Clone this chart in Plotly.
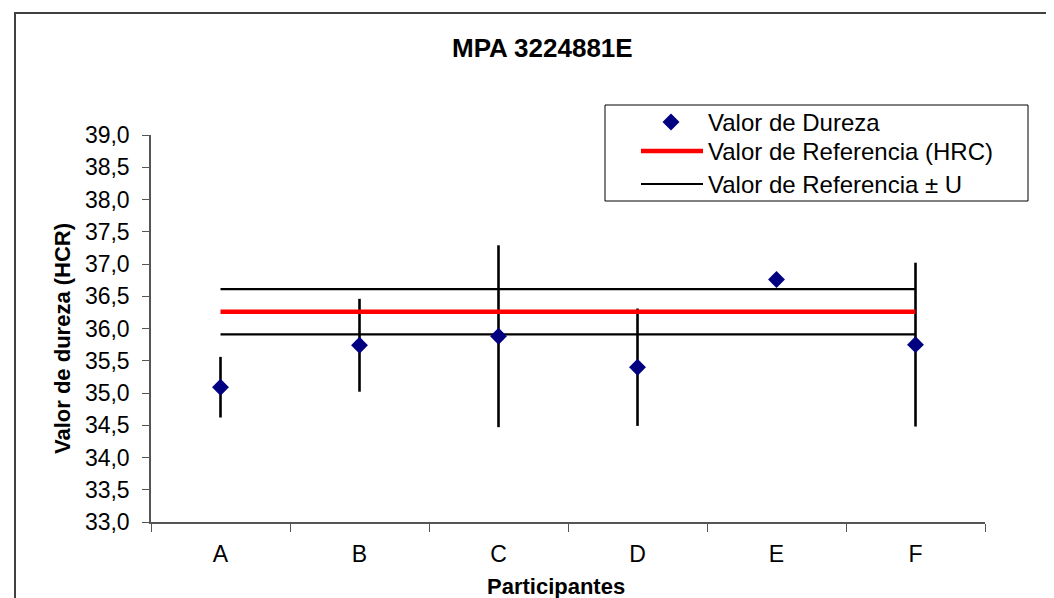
import plotly.graph_objects as go

# ---- data ----
participants = ["A", "B", "C", "D", "E", "F"]
hardness = [35.09, 35.74, 35.88, 35.40, 36.76, 35.75]
hardness_err = [0.47, 0.72, 1.41, 0.91, 0.0, 1.27]
ref_value = 36.26
ref_U = 0.35
y_ticks = [33.0, 33.5, 34.0, 34.5, 35.0, 35.5, 36.0, 36.5, 37.0, 37.5, 38.0, 38.5, 39.0]

title_text = "MPA 3224881E"
x_title = "Participantes"
y_title = "Valor de dureza (HCR)"
legend_names = ["Valor de Dureza", "Valor de Referencia (HRC)", "Valor de Referencia ± U"]

# ---- layout geometry (pixels) ----
W, H = 1054, 598
L, R, T, B = 143, 77, 127, 84
PW, PH = W - L - R, H - T - B

def px(x):
    return (x - L) / PW

def py(y):
    return (H - B - y) / PH

FONT = "Arial, Liberation Sans, sans-serif"
NAVY = "#000080"

fig = go.Figure()

# error bars (drawn first, below lines)
fig.add_trace(go.Scatter(
    x=participants, y=hardness, mode="markers",
    marker=dict(size=1, color="rgba(0,0,0,0)"),
    error_y=dict(type="data", array=hardness_err, visible=True,
                 color="black", thickness=2.6, width=0),
    showlegend=False, hoverinfo="skip"))

# reference lines
fig.add_trace(go.Scatter(
    x=participants, y=[ref_value + ref_U] * len(participants), mode="lines",
    line=dict(color="black", width=2.2), showlegend=False))
fig.add_trace(go.Scatter(
    x=participants, y=[ref_value - ref_U] * len(participants), mode="lines",
    line=dict(color="black", width=2.2), showlegend=False))
fig.add_trace(go.Scatter(
    x=participants, y=[ref_value] * len(participants), mode="lines",
    line=dict(color="#FF0000", width=4.5), showlegend=False))

# hardness markers on top
fig.add_trace(go.Scatter(
    x=participants, y=hardness, mode="markers",
    marker=dict(symbol="diamond", size=13, color=NAVY, line=dict(width=0)),
    showlegend=False))

shapes = []
annotations = []

# outer chart border
shapes.append(dict(type="rect", xref="paper", yref="paper",
                   x0=px(7), x1=px(1062), y0=py(5), y1=py(640),
                   line=dict(color="#404040", width=2)))

# legend box
lx0, lx1, ly0, ly1 = 597, 1020, 97, 193
shapes.append(dict(type="rect", xref="paper", yref="paper",
                   x0=px(lx0), x1=px(lx1), y0=py(ly0), y1=py(ly1),
                   line=dict(color="black", width=1), fillcolor="white", layer="above"))
rows = [114, 143, 176]
# diamond symbol
cx, cy, r = 663, rows[0], 8.5
path = "M {} {} L {} {} L {} {} L {} {} Z".format(
    px(cx), py(cy - r), px(cx + r), py(cy), px(cx), py(cy + r), px(cx - r), py(cy))
shapes.append(dict(type="path", xref="paper", yref="paper", path=path,
                   fillcolor=NAVY, line=dict(width=0), layer="above"))
shapes.append(dict(type="line", xref="paper", yref="paper",
                   x0=px(633), x1=px(695), y0=py(rows[1]), y1=py(rows[1]),
                   line=dict(color="#FF0000", width=4.5), layer="above"))
shapes.append(dict(type="line", xref="paper", yref="paper",
                   x0=px(633), x1=px(695), y0=py(rows[2]), y1=py(rows[2]),
                   line=dict(color="black", width=2.2), layer="above"))
for name, ry in zip(legend_names, rows):
    annotations.append(dict(xref="paper", yref="paper", x=px(698), y=py(ry),
                            xanchor="left", yanchor="middle", showarrow=False,
                            text=name, font=dict(family=FONT, size=24, color="black")))

# titles
annotations.append(dict(xref="paper", yref="paper", x=px(534), y=py(40),
                        xanchor="center", yanchor="middle", showarrow=False,
                        text="<b>" + title_text + "</b>",
                        font=dict(family=FONT, size=26, color="black")))
annotations.append(dict(xref="paper", yref="paper", x=px(548), y=py(578),
                        xanchor="center", yanchor="middle", showarrow=False,
                        text="<b>" + x_title + "</b>",
                        font=dict(family=FONT, size=22, color="black")))
annotations.append(dict(xref="paper", yref="paper", x=px(54), y=py(331),
                        xanchor="center", yanchor="middle", showarrow=False,
                        textangle=-90, text="<b>" + y_title + "</b>",
                        font=dict(family=FONT, size=22, color="black")))

fig.update_layout(
    width=W, height=H,
    margin=dict(l=L, r=R, t=T, b=B, pad=0),
    paper_bgcolor="white", plot_bgcolor="white",
    separators=",.",
    showlegend=False,
    shapes=shapes, annotations=annotations,
    font=dict(family=FONT, size=23, color="black"),
)
fig.update_xaxes(
    type="category", range=[-0.5, len(participants) - 0.5],
    showgrid=False, zeroline=False,
    showline=True, linecolor="#555555", linewidth=1.5,
    ticks="outside", tickson="boundaries", ticklen=8, tickcolor="#555555", tickwidth=1,
    tickfont=dict(family=FONT, size=23, color="black"),
    ticklabelstandoff=11,
)
fig.update_yaxes(
    range=[33, 39], tickvals=y_ticks, tickformat=".1f",
    showgrid=False, zeroline=False,
    showline=True, linecolor="#555555", linewidth=1.5,
    ticks="outside", ticklen=7, tickcolor="#555555", tickwidth=1,
    tickfont=dict(family=FONT, size=23, color="black"),
    ticklabelstandoff=8,
)

fig.write_html("out.html")
